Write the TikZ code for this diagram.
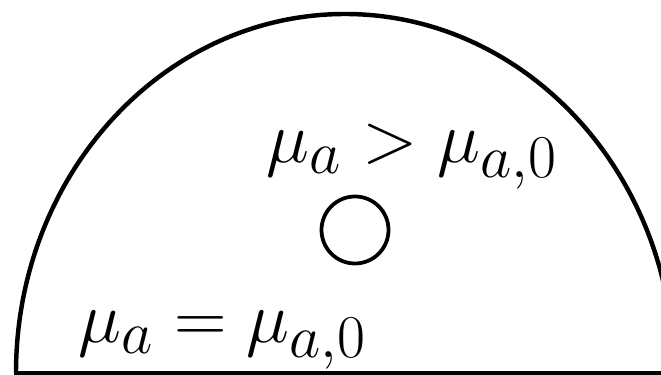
\documentclass[tikz,border=0pt]{standalone}
\usepackage{amsmath}
\usepackage{graphicx}
\begin{document}
\begin{tikzpicture}[x=0.03cm,y=-0.03cm,
  lbl/.style={inner sep=0pt,anchor=base west,font=\Huge}]
\useasboundingbox (0,0) rectangle (661,375);
\begin{scope}
\clip (0,0) rectangle (661,375);
\draw[line width=3.8pt] (16,373) arc[start angle=180,end angle=360,x radius=329,y radius=359];
\draw[line width=2.6pt] (14,373) -- (661,373);
\end{scope}
\node[draw,circle,line width=3.2pt,minimum size=67*0.03cm,inner sep=0pt] (c) at (355,230) {};
\node[lbl] (t1) at (266,163) {\scalebox{2.5}{$\mu_a>\mu_{a,0}$}};
\node[lbl] (t2) at (78,343) {\scalebox{2.5}{$\mu_a=\mu_{a,0}$}};
\end{tikzpicture}
\end{document}
